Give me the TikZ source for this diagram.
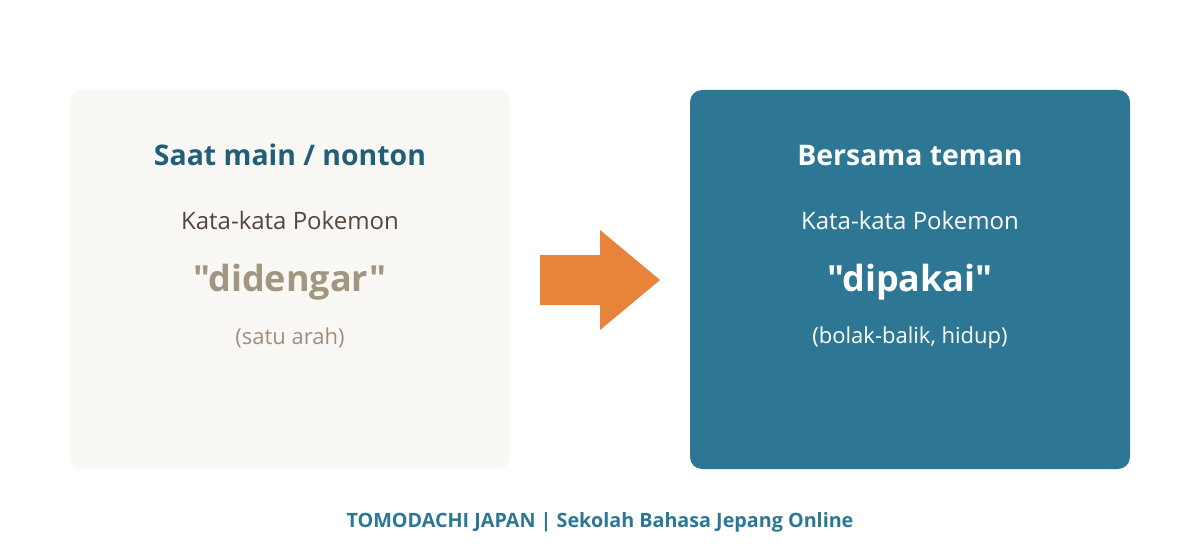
\documentclass[tikz,border=0pt]{standalone}
\usepackage{fontspec}
\setmainfont{Open Sans}[Ligatures=TeXOff]
\usetikzlibrary{positioning}
\definecolor{panelcream}{HTML}{FAF8F4}
\definecolor{panelteal}{HTML}{2E7794}
\definecolor{titleteal}{HTML}{1F5F7A}
\definecolor{wordbrown}{HTML}{54463A}
\definecolor{hearbrown}{HTML}{A09682}
\definecolor{notebrown}{HTML}{A08E7C}
\definecolor{arroworange}{HTML}{E8843A}
\tikzset{
  panel/.style={rounded corners=9pt, draw=none},
  paneltitle/.style={font=\fontsize{21.3pt}{25pt}\selectfont\bfseries, inner sep=0pt},
  panelword/.style={font=\fontsize{18pt}{21pt}\selectfont, inner sep=0pt},
  panelbig/.style={font=\fontsize{27pt}{32pt}\selectfont\bfseries, inner sep=0pt},
  panelnote/.style={font=\fontsize{16.5pt}{19pt}\selectfont, inner sep=0pt}
}
\begin{document}
\begin{tikzpicture}[x=0.75pt, y=-0.75pt]
\useasboundingbox[fill=white] (0,0) rectangle (1200,560);
% left panel
\fill[panel, panelcream] (70,90) rectangle (510,469);
\node[paneltitle, text=titleteal] (lefttitle) at (290,155) {Saat main / nonton};
\node[panelword, text=wordbrown] (leftword) at (290,220) {Kata-kata Pokemon};
\node[panelbig, text=hearbrown] (leftbig) at (290,282) {"didengar"};
\node[panelnote, text=notebrown] (leftnote) at (290,338) {(satu arah)};
% arrow
\fill[arroworange] (540,255) -- (600,255) -- (600,230) -- (660,280) -- (600,330) -- (600,305) -- (540,305) -- cycle;
% right panel
\fill[panel, panelteal] (690,90) rectangle (1130,469);
\node[paneltitle, text=white] (righttitle) at (910,156) {Bersama teman};
\node[panelword, text=white] (rightword) at (910,220) {Kata-kata Pokemon};
\node[panelbig, text=white] (rightbig) at (910,282) {"dipakai"};
\node[panelnote, text=white] (rightnote) at (910,338) {(bolak-balik, hidup)};
% footer
\node[font=\fontsize{14.8pt}{17pt}\selectfont\bfseries, text=panelteal, inner sep=0pt] (footer) at (600,522) {TOMODACHI JAPAN | Sekolah Bahasa Jepang Online};
\end{tikzpicture}
\end{document}
